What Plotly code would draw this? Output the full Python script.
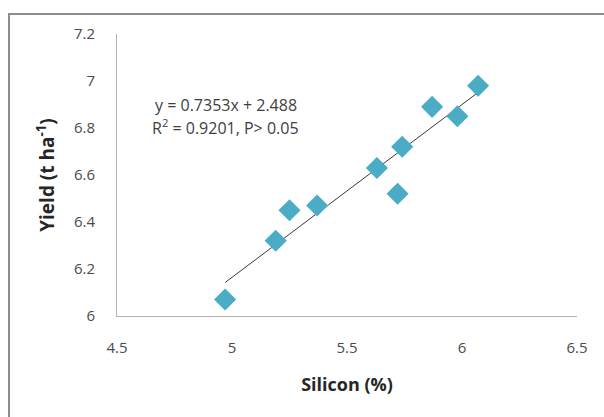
import plotly.graph_objects as go
import numpy as np

silicon = [4.97, 5.19, 5.25, 5.37, 5.63, 5.72, 5.74, 5.87, 5.98, 6.07]
yield_t = [6.07, 6.32, 6.45, 6.47, 6.63, 6.52, 6.72, 6.89, 6.85, 6.98]
slope, intercept = 0.7353, 2.488
x_ticks = [4.5, 5, 5.5, 6, 6.5]
y_ticks = [6, 6.2, 6.4, 6.6, 6.8, 7, 7.2]
eq_lines = ["y = 0.7353x + 2.488", "R<sup>2</sup> = 0.9201, P> 0.05"]

FONT = "Open Sans, Liberation Sans, sans-serif"

fig = go.Figure()
xl = np.array([min(silicon), max(silicon)])
fig.add_trace(go.Scatter(x=xl, y=slope * xl + intercept, mode="lines",
                         line=dict(color="#3a3a3a", width=1), hoverinfo="skip",
                         showlegend=False))
fig.add_trace(go.Scatter(x=silicon, y=yield_t, mode="markers",
                         marker=dict(symbol="diamond", size=17, color="#4BACC6",
                                     line=dict(width=0)),
                         showlegend=False))

fig.update_layout(
    width=604, height=417,
    margin=dict(l=117, r=27, t=34, b=101),
    paper_bgcolor="white", plot_bgcolor="white",
    font=dict(family=FONT, color="#4a4a4a", size=15),
    xaxis=dict(range=[4.5, 6.5], tickvals=x_ticks, ticktext=[str(v) for v in x_ticks],
               showgrid=False, zeroline=False, showline=True, linecolor="#b3b3b3",
               linewidth=1, ticks="", ticklen=0, ticklabelstandoff=18,
               title=dict(text="<b>Silicon (%)</b>", font=dict(size=18, color="#262626"),
                          standoff=22),
               tickfont=dict(size=15, color="#4a4a4a")),
    yaxis=dict(range=[6, 7.2], tickvals=y_ticks, ticktext=[("%g" % v) for v in y_ticks],
               showgrid=False, zeroline=False, showline=True, linecolor="#b3b3b3",
               linewidth=1, ticks="", ticklen=0, ticklabelstandoff=18,
               title=dict(text="<b>Yield (t ha<sup>-1</sup>)</b>", font=dict(size=19, color="#262626"),
                          standoff=14),
               tickfont=dict(size=15, color="#4a4a4a")),
    annotations=[
        dict(xref="paper", yref="paper", x=(226 - 117) / 460, y=1 - (105 - 34) / 282,
             text=eq_lines[0], showarrow=False, xanchor="center", yanchor="middle",
             font=dict(size=16, color="#404040", family=FONT)),
        dict(xref="paper", yref="paper", x=(225 - 117) / 460, y=1 - (127 - 34) / 282,
             text=eq_lines[1], showarrow=False, xanchor="center", yanchor="middle",
             font=dict(size=16, color="#404040", family=FONT)),
    ],
    shapes=[dict(type="rect", xref="paper", yref="paper",
                 x0=(9 - 117) / 460, x1=1.2, y0=-0.5, y1=1 + (34 - 14) / 282,
                 line=dict(color="#8c8c8c", width=2), fillcolor="rgba(0,0,0,0)", layer="below")],
)

fig.write_html("out.html")
